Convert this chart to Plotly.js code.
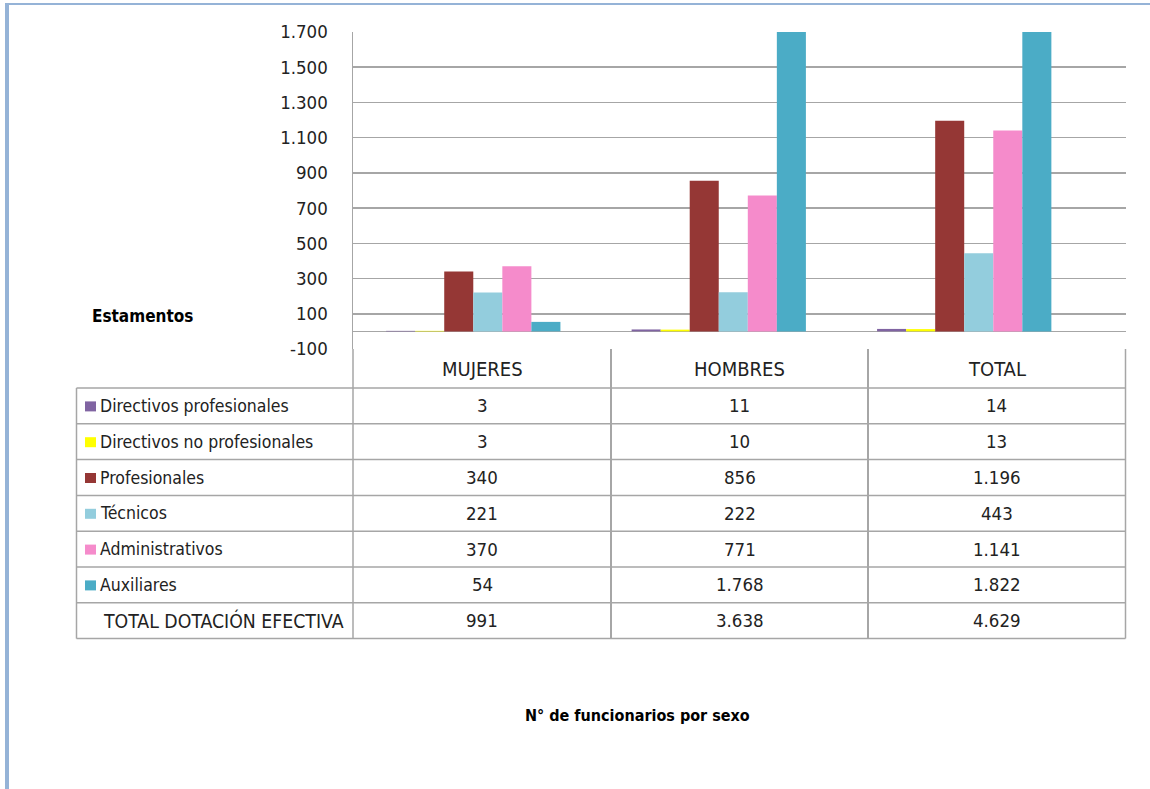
<!DOCTYPE html>
<html>
<head>
<meta charset="utf-8">
<script src="https://cdn.plot.ly/plotly-3.0.1.min.js"></script>
<style>
  html, body { margin: 0; padding: 0; background: #fff; }
  #chart { width: 1150px; height: 789px; }
</style>
</head>
<body>
<div id="chart"></div>
<script>
// ---- Data ----
const categories = ['MUJERES', 'HOMBRES', 'TOTAL'];
const seriesNames = ['Directivos profesionales', 'Directivos no profesionales', 'Profesionales', 'Técnicos', 'Administrativos', 'Auxiliares'];
const directivosProfesionales = [3, 11, 14];
const directivosNoProfesionales = [3, 10, 13];
const profesionales = [340, 856, 1196];
const tecnicos = [221, 222, 443];
const administrativos = [370, 771, 1141];
const auxiliares = [54, 1768, 1822];
const totalLabel = 'TOTAL DOTACIÓN EFECTIVA';
const totalDotacion = [991, 3638, 4629];
const yTicks = [-100, 100, 300, 500, 700, 900, 1100, 1300, 1500, 1700];
const chartTitle = 'N° de funcionarios por sexo';
const tableTitle = 'Estamentos';

const seriesValues = [directivosProfesionales, directivosNoProfesionales, profesionales, tecnicos, administrativos, auxiliares];
const seriesColors = ['#8064A2', '#FFFF00', '#953735', '#93CDDD', '#F58BCB', '#4BACC6'];

// ---- Geometry helpers (pixels -> paper) ----
const W = 1150, H = 789;
const px = x => x / W;
const py = y => 1 - y / H;
const FONT = "'Liberation Sans Narrow', 'Arial Narrow', 'DejaVu Sans Condensed', sans-serif";
const fmt = v => (v < 0 ? '-' : '') + String(Math.abs(v)).replace(/\B(?=(\d{3})+(?!\d))/g, '.');

const traces = seriesNames.map((name, i) => ({
  type: 'bar',
  name: name,
  x: categories,
  y: seriesValues[i],
  marker: { color: seriesColors[i], line: { width: 0 } },
  hoverinfo: 'x+y+name'
}));

// Table geometry
const colEdges = [353, 611, 868, 1125.5];
const tableLeft = 76.5;
const headerTop = 349, headerBottom = 388;
const rowH = (638.6 - 388) / 7;
const gridColor = '#a6a6a6';
const borderColor = '#95B3D7';
const TXT = 17.5, NUM = 18.5, CAPS = 20;

const shapes = [];
const annotations = [];
function line(x0, y0, x1, y1, w, c) {
  shapes.push({ type: 'line', xref: 'paper', yref: 'paper', x0: px(x0), y0: py(y0), x1: px(x1), y1: py(y1),
    line: { color: c || gridColor, width: w || 1.5 } });
}
// frame borders
line(5, 4, 1150, 4, 2, borderColor);
line(7, 3, 7, 789, 4, borderColor);

// table lines
const rowCount = seriesNames.length + 1;
for (let r = 0; r <= rowCount; r++) {
  const y = headerBottom + r * rowH;
  line(tableLeft, y, colEdges[3], y, 1.5);
}
line(tableLeft, headerBottom, tableLeft, headerBottom + rowCount * rowH, 1.5);
colEdges.forEach((x, i) => line(x, headerTop, x, headerBottom + rowCount * rowH, i === 1 || i === 2 ? 2 : 1.5));

// header texts
categories.forEach((c, j) => {
  annotations.push({ xref: 'paper', yref: 'paper', x: px((colEdges[j] + colEdges[j + 1]) / 2), y: py((headerTop + headerBottom) / 2),
    text: c, showarrow: false, xanchor: 'center', yanchor: 'middle', font: { family: FONT, size: CAPS, color: '#222' } });
});

// rows
const rowLabels = seriesNames.concat([totalLabel]);
const rowValues = seriesValues.concat([totalDotacion]);
rowLabels.forEach((lab, r) => {
  const yc = headerBottom + (r + 0.5) * rowH;
  const isSeries = r < seriesNames.length;
  if (isSeries) {
    shapes.push({ type: 'rect', xref: 'paper', yref: 'paper', x0: px(85), x1: px(96), y0: py(yc - 4.5), y1: py(yc + 5.5),
      fillcolor: seriesColors[r], line: { width: 0 } });
  }
  annotations.push({ xref: 'paper', yref: 'paper', x: px(isSeries ? 98 : 101), y: py(yc),
    text: lab, showarrow: false, xanchor: 'left', yanchor: 'middle', font: { family: FONT, size: isSeries ? TXT : 19.3, color: '#222' } });
  rowValues[r].forEach((v, j) => {
    annotations.push({ xref: 'paper', yref: 'paper', x: px((colEdges[j] + colEdges[j + 1]) / 2), y: py(yc),
      text: fmt(v), showarrow: false, xanchor: 'center', yanchor: 'middle', font: { family: FONT, size: NUM, color: '#222' } });
  });
});

annotations.push({ xref: 'paper', yref: 'paper', x: px(142), y: py(316), text: '<b>' + tableTitle + '</b>', showarrow: false,
  xanchor: 'center', yanchor: 'middle', font: { family: FONT, size: 17, color: '#000' } });
annotations.push({ xref: 'paper', yref: 'paper', x: px(637), y: py(715), text: '<b>' + chartTitle + '</b>', showarrow: false,
  xanchor: 'center', yanchor: 'middle', font: { family: FONT, size: 16, color: '#000' } });

const layout = {
  width: W, height: H,
  margin: { l: 0, r: 0, t: 0, b: 0 },
  paper_bgcolor: '#fff', plot_bgcolor: '#fff',
  showlegend: false,
  barmode: 'group',
  bargap: 0.29,
  bargroupgap: 0,
  xaxis: {
    domain: [px(353), px(1125.5)],
    type: 'category',
    range: [-0.49, 2.657],
    showticklabels: false, showgrid: false, zeroline: false, showline: false, ticks: ''
  },
  yaxis: {
    domain: [py(349), py(32)],
    range: [-100, 1700],
    tickmode: 'array',
    tickvals: yTicks,
    ticktext: yTicks.map(fmt),
    showgrid: true, gridcolor: gridColor, gridwidth: 1.5,
    zeroline: true, zerolinecolor: gridColor, zerolinewidth: 1.5,
    showline: true, linecolor: gridColor, linewidth: 1.5,
    ticks: '', ticklabelstandoff: 20,
    tickfont: { family: FONT, size: 18.5, color: '#222' }
  },
  shapes: shapes,
  annotations: annotations
};

Plotly.newPlot('chart', traces, layout, { displayModeBar: false, staticPlot: true });
</script>
</body>
</html>
